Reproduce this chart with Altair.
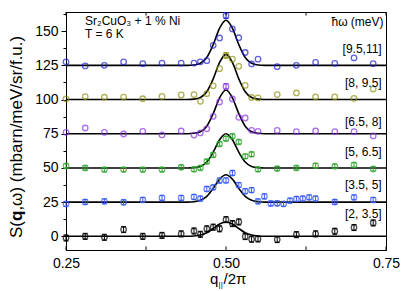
import altair as alt
import pandas as pd

# ---------------- data ----------------
LABELS = ["[9.5,11]", "[8, 9.5]", "[6.5, 8]", "[5, 6.5]", "[3.5, 5]", "[2, 3.5]"]
COLORS = ["#2020d0", "#8f8f10", "#8a34e6", "#30a830", "#3a5cf0", "#000000"]

Q_SPARSE = [0.25, 0.28, 0.31, 0.34, 0.37, 0.40, 0.43, 0.45, 0.46, 0.47, 0.48, 0.49,
            0.50, 0.51, 0.52, 0.53, 0.54, 0.55, 0.58, 0.61, 0.64, 0.67, 0.70, 0.73]
Q_DENSE = [0.25, 0.28, 0.31, 0.34, 0.37, 0.40, 0.43, 0.45, 0.46, 0.47, 0.48, 0.49,
           0.50, 0.51, 0.52, 0.53, 0.54, 0.55, 0.56, 0.57, 0.58, 0.59, 0.60, 0.61,
           0.62, 0.63, 0.64, 0.67, 0.70, 0.73]

S_95_11 = [127.5, 124.6, 125.0, 127.5, 126.2, 126.7, 126.6, 126.7, 127.6, 128.4, 139.6, 145.0,
           161.4, 151.6, 145.2, 134.4, 126.0, 129.5, 124.0, 125.0, 127.2, 126.5, 130.4, 126.2]
S_8_95 = [100.5, 102.2, 101.7, 101.8, 100.6, 102.3, 103.4, 103.6, 98.7, 104.3, 110.0, 122.6,
          132.3, 129.5, 124.3, 110.3, 101.5, 101.2, 103.6, 104.8, 101.9, 101.9, 100.9, 107.7]
S_65_8 = [76.0, 79.2, 76.0, 74.8, 76.8, 74.1, 77.0, 74.0, 75.6, 78.6, 87.7, 98.2,
          109.6, 100.4, 87.0, 86.5, 77.5, 76.8, 77.4, 76.5, 77.0, 76.5, 76.5, 73.4]
S_5_65 = [51.5, 50.0, 48.8, 48.8, 48.8, 48.8, 50.5, 49.0, 50.0, 54.7, 59.5, 67.5,
          71.4, 73.2, 69.0, 58.5, 60.0, 49.0, 49.5, 50.0, 51.7, 51.2, 52.2, 49.3]
S_35_5 = [23.7, 25.1, 25.6, 24.9, 26.6, 28.1, 28.1, 28.8, 27.6, 34.6, 35.8, 40.8,
          40.9, 46.3, 37.5, 33.0, 33.8, 25.6, 29.2, 24.0, 24.1, 23.7, 26.1, 27.3,
          27.6, 28.5, 27.6, 25.1, 28.5, 26.6]
S_2_35 = [-1.2, 0.0, -0.7, 4.9, 0.0, 0.7, 1.8, 3.9, 1.5, 5.5, 6.7, 5.5,
          12.2, 9.3, 10.5, -0.2, -2.1, -1.9, -2.4, 1.2, 1.8, 3.7, 6.4, 9.8]

# error bar half-lengths (constant per series) and the larger ones at the peak (q = 0.50)
ERR = [0.0, 0.0, 0.0, 1.6, 1.8, 2.2]
PEAK_ERR = [2.2, 2.0, 2.0, 1.6, 1.8, 2.2]

# fitted curves
FIT_Q = [0.25, 0.44, 0.45, 0.46, 0.47, 0.48, 0.49, 0.50, 0.51, 0.52, 0.53, 0.54, 0.55, 0.56, 0.75]
FIT_95_11 = [125, 125.0, 125.3, 126.5, 130.7, 140.1, 152.2, 158.0, 152.2, 140.1, 130.7, 126.5, 125.3, 125.0, 125]
FIT_8_95 = [100, 100.0, 100.3, 101.5, 105.7, 115.1, 127.2, 133.0, 127.2, 115.1, 105.7, 101.5, 100.3, 100.0, 100]
FIT_65_8 = [75, 75.0, 75.3, 76.4, 80.5, 89.7, 101.3, 107.0, 101.3, 89.7, 80.5, 76.4, 75.3, 75.0, 75]
FIT_5_65 = [50, 50.0, 50.2, 51.1, 54.3, 61.5, 70.6, 75.0, 70.6, 61.5, 54.3, 51.1, 50.2, 50.0, 50]
FIT_35_5 = [25, 25.0, 25.3, 26.3, 29.2, 35.0, 41.8, 45.0, 41.8, 35.0, 29.2, 26.3, 25.3, 25.0, 25]
FIT_2_35 = [0, 0.0, 0.2, 0.9, 2.6, 5.7, 9.0, 10.5, 9.0, 5.7, 2.6, 0.9, 0.2, 0.0, 0]

X_TICKS = [0.25, 0.50, 0.75]
X_ALL_TICKS = [0.25, 0.375, 0.50, 0.625, 0.75]
Y_TICKS = [0, 25, 50, 75, 100, 125, 150]
Y_MINOR = [12.5, 37.5, 62.5, 87.5, 112.5, 137.5, 162.5]

# ---------------- tables ----------------
series_q = [Q_SPARSE, Q_SPARSE, Q_SPARSE, Q_SPARSE, Q_DENSE, Q_SPARSE]
series_v = [S_95_11, S_8_95, S_65_8, S_5_65, S_35_5, S_2_35]
fits = [FIT_95_11, FIT_8_95, FIT_65_8, FIT_5_65, FIT_35_5, FIT_2_35]

rows = []
for i, name in enumerate(LABELS):
    for q, v in zip(series_q[i], series_v[i]):
        e = PEAK_ERR[i] if abs(q - 0.50) < 1e-9 else ERR[i]
        rows.append({"series": name, "q": q, "v": v, "lo": v - e, "hi": v + e, "e": e})
pts = pd.DataFrame(rows)
errs = pts[pts["e"] > 0]

fit_rows = []
for i, name in enumerate(LABELS):
    for q, v in zip(FIT_Q, fits[i]):
        fit_rows.append({"series": name, "q": q, "v": v})
fit_df = pd.DataFrame(fit_rows)

FONT = "Liberation Sans"

x_scale = alt.Scale(domain=[0.25, 0.75], nice=False, zero=False)
y_scale = alt.Scale(domain=[-10, 164], nice=False, zero=False)
x_enc = alt.X("q:Q", scale=x_scale,
              axis=alt.Axis(values=X_TICKS, format=".2f", tickSize=0, labelFontSize=14,
                            labelPadding=6, title=None, grid=False, labelFont=FONT,
                            domainColor="black", labelColor="black", labelFlush=False))
color_enc = alt.Color("series:N", scale=alt.Scale(domain=LABELS, range=COLORS), legend=None)

lines = alt.Chart(fit_df).mark_line(color="black", strokeWidth=1.6, interpolate="monotone").encode(
    x=x_enc,
    y=alt.Y("v:Q", scale=y_scale,
            axis=alt.Axis(values=Y_TICKS, tickSize=5, labelFontSize=14, labelPadding=3,
                          title=None, grid=False, orient="left", labelFont=FONT,
                          tickColor="black", domainColor="black", labelColor="black")),
    detail="series:N",
)

minor_axis = alt.Chart(fit_df).mark_point(opacity=0).encode(
    x=x_enc,
    y=alt.Y("v:Q", scale=y_scale,
            axis=alt.Axis(values=Y_MINOR, tickSize=3, labels=False, domain=False,
                          title=None, grid=False, orient="left", tickColor="black")),
)

ebar = alt.Chart(errs).mark_rule(strokeWidth=1).encode(
    x=x_enc, y=alt.Y("lo:Q", scale=y_scale, axis=None), y2="hi:Q", color=color_enc)
cap_lo = alt.Chart(errs).mark_rule(strokeWidth=1, xOffset=-2.5, x2Offset=2.5).encode(
    x=x_enc, x2="q:Q", y=alt.Y("lo:Q", scale=y_scale, axis=None), color=color_enc)
cap_hi = alt.Chart(errs).mark_rule(strokeWidth=1, xOffset=-2.5, x2Offset=2.5).encode(
    x=x_enc, x2="q:Q", y=alt.Y("hi:Q", scale=y_scale, axis=None), color=color_enc)

points = alt.Chart(pts).mark_point(shape="circle", filled=False, size=30, strokeWidth=1.3).encode(
    x=x_enc, y=alt.Y("v:Q", scale=y_scale, axis=None), color=color_enc)

tick_df = pd.DataFrame({"q": X_ALL_TICKS})
ticks_bottom = alt.Chart(tick_df).mark_rule(color="black", strokeWidth=1).encode(
    x=x_enc, y=alt.value(238), y2=alt.value(234.5))
ticks_top = alt.Chart(tick_df).mark_rule(color="black", strokeWidth=1).encode(
    x=x_enc, y=alt.value(0), y2=alt.value(3.5))


def text_layer(txt, px, py, size=12, align="left", baseline="middle", angle=None, weight="normal"):
    kw = dict(align=align, baseline=baseline, fontSize=size, font=FONT, color="black",
              fontWeight=weight)
    if angle is not None:
        kw["angle"] = angle
    return alt.Chart(pd.DataFrame({"t": [txt]})).mark_text(**kw).encode(
        text="t:N", x=alt.value(px), y=alt.value(py))


LABEL_Y_PX = [37.3, 70.7, 110.3, 140.3, 173.0, 202.3]
texts = [
    text_layer("Sr\u2082CuO\u2083  + 1 % Ni", 19, 9),
    text_layer("T = 6 K", 19, 21.5),
    text_layer("\u0127\u03c9 (meV)", 317.5, 9.7, align="right"),
]
for lab, py in zip(LABELS, LABEL_Y_PX):
    texts.append(text_layer(lab, 315.7, py, align="right"))

# y-axis title with bold q
texts += [
    text_layer("S(", -44, 226, size=17, align="left", baseline="alphabetic", angle=270),
    text_layer("q", -44, 209, size=17, align="left", baseline="alphabetic", angle=270, weight="bold"),
    text_layer(",\u03c9) (mbarn/meV/sr/f.u.)", -44, 198.6, size=17, align="left",
               baseline="alphabetic", angle=270),
]
# x-axis title q_||/2π
texts += [
    text_layer("q", 144, 272, size=15, baseline="alphabetic"),
    text_layer("||", 152.6, 275, size=8, baseline="alphabetic"),
    text_layer("/2\u03c0", 157.5, 272, size=15, baseline="alphabetic"),
]

chart = alt.layer(
    minor_axis, lines, ebar, cap_lo, cap_hi, points, ticks_bottom, ticks_top, *texts
).resolve_axis(y="independent").properties(
    width=320, height=238,
    autosize=alt.AutoSizeParams(type="none"),
    padding={"left": 58, "top": 4, "right": 21, "bottom": 41},
).configure_view(stroke="black", strokeWidth=1)

chart.save("out.html", embed_options={"renderer": "svg", "actions": False})
